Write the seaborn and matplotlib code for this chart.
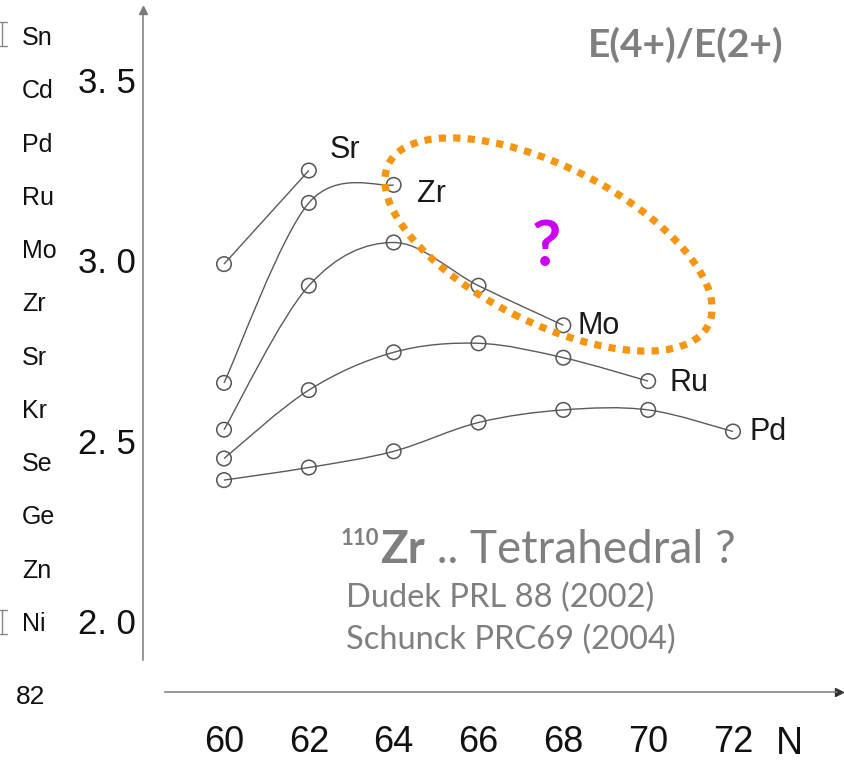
import numpy as np
import pandas as pd
import matplotlib
matplotlib.use("Agg")
import matplotlib.pyplot as plt
from matplotlib import font_manager
from matplotlib.path import Path
from matplotlib.patches import PathPatch, Ellipse
from matplotlib.lines import Line2D
from matplotlib.transforms import Affine2D
import seaborn as sns

# E(4+)/E(2+) energy ratios against neutron number N
n_sr = [60, 62]
r_sr = [2.99, 3.25]
n_zr = [60, 62, 64]
r_zr = [2.66, 3.16, 3.21]
n_mo = [60, 62, 64, 66, 68]
r_mo = [2.53, 2.93, 3.05, 2.93, 2.82]
n_ru = [60, 62, 64, 66, 68, 70]
r_ru = [2.45, 2.64, 2.745, 2.77, 2.73, 2.665]
n_pd = [60, 62, 64, 66, 68, 70, 72]
r_pd = [2.39, 2.425, 2.47, 2.55, 2.585, 2.585, 2.525]

elements = ["Sr", "Zr", "Mo", "Ru", "Pd"]
x_ticks = [60, 62, 64, 66, 68, 70, 72]
y_ticks = [2.0, 2.5, 3.0, 3.5]
y_tick_labels = ["2. 0", "2. 5", "3. 0", "3. 5"]
side_labels = ["Sn", "Cd", "Pd", "Ru", "Mo", "Zr", "Sr", "Kr", "Se", "Ge", "Zn", "Ni"]

series = dict(zip(elements, [(n_sr, r_sr), (n_zr, r_zr), (n_mo, r_mo),
                             (n_ru, r_ru), (n_pd, r_pd)]))
df = pd.concat([pd.DataFrame({"element": k, "N": n, "ratio": r})
                for k, (n, r) in series.items()], ignore_index=True)

sns.set_style("white")
available = {f.name for f in font_manager.fontManager.ttflist}
NARROW = "Liberation Sans Narrow" if "Liberation Sans Narrow" in available else "Liberation Sans"
SANS = "Lato" if "Lato" in available else "DejaVu Sans"
plt.rcParams["font.family"] = [SANS, "DejaVu Sans"]

W, H = 845, 765
fig = plt.figure(figsize=(W / 100, H / 100), dpi=100)
fig.patch.set_facecolor("white")


def fxy(px, py):
    """Figure-fraction coordinates from pixel position (origin top-left)."""
    return px / W, 1 - py / H


# axes box: left spine at x=143 px, bottom axis at y=692 px
ax = fig.add_axes([143 / W, (H - 692) / H, (W - 143) / W, 692 / H])
ax.set_facecolor("none")
px_per_n = (733 - 224) / 12.0
px_per_r = 360.0
ax.set_xlim(60 - (224 - 143) / px_per_n, 60 + (W - 224) / px_per_n)
ax.set_ylim(2.0 - (692 - 620.5) / px_per_r, 3.0 + 260.5 / px_per_r)

AXC = "#7a7a7a"
for side in ("top", "right"):
    ax.spines[side].set_visible(False)
ax.spines["left"].set_color(AXC)
ax.spines["bottom"].set_color(AXC)
ax.spines["left"].set_linewidth(1.1)
ax.spines["bottom"].set_linewidth(1.1)
ax.spines["left"].set_bounds(1.89, 3.69)
ax.spines["bottom"].set_bounds(58.6, 74.45)
# arrow heads on both axes
ax.plot([0], [3.695], marker="^", ms=6, color=AXC, transform=ax.get_yaxis_transform(),
        clip_on=False)
ax.plot([74.5], [0], marker=">", ms=6, color="#333333", transform=ax.get_xaxis_transform(),
        clip_on=False)

ax.set_xticks(x_ticks)
ax.set_xticklabels([str(v) for v in x_ticks])
ax.set_yticks(y_ticks)
ax.set_yticklabels(y_tick_labels)
ax.tick_params(axis="y", direction="in", length=15, width=1.0, color=AXC, pad=5,
               labelsize=25, labelcolor="#111111")
ax.tick_params(axis="x", direction="in", length=18, width=1.0, color=AXC, pad=24,
               labelsize=26, labelcolor="#111111")
for lbl in ax.get_xticklabels() + ax.get_yticklabels():
    lbl.set_fontfamily([NARROW, "DejaVu Sans"])
ax.set_xlabel("")
ax.set_ylabel("")


def smooth_path(xs, ys):
    """Catmull-Rom curve through the points, expressed as cubic Bezier segments."""
    pts = np.column_stack([xs, ys]).astype(float)
    p = np.vstack([pts[0], pts, pts[-1]])
    verts = [pts[0]]
    codes = [Path.MOVETO]
    for i in range(len(pts) - 1):
        p0, p1, p2, p3 = p[i], p[i + 1], p[i + 2], p[i + 3]
        verts += [p1 + (p2 - p0) / 6.0, p2 - (p3 - p1) / 6.0, p2]
        codes += [Path.CURVE4] * 3
    return Path(verts, codes)


for el, (n, r) in series.items():
    ax.add_patch(PathPatch(smooth_path(n, r), fill=False, edgecolor="#5a5a5a",
                           lw=1.0, zorder=2))

sns.scatterplot(data=df, x="N", y="ratio", ax=ax, s=110, marker="o", color="#555555",
                edgecolor="#555555", linewidth=1.1, legend=False, zorder=3)
for coll in ax.collections:
    coll.set_facecolor("none")
ax.set_xlabel("")
ax.set_ylabel("")

# element labels beside the last point of each chain (offsets in pixels)
label_offsets = {"Sr": (36, 20), "Zr": (38, -9), "Mo": (35, -1), "Ru": (41, -2), "Pd": (35, 0)}
for el, (n, r) in series.items():
    dx, dy = label_offsets[el]
    ax.annotate(el, xy=(n[-1], r[-1]), xytext=(dx * 0.72, dy * 0.72),
                textcoords="offset points", ha="center", va="center",
                fontsize=22, color="#1a1a1a", family=[NARROW, "DejaVu Sans"])

# column of element names on the left edge
for i, name in enumerate(side_labels):
    fig.text(*fxy(22, 38 + i * 53.27), name, ha="left", va="center", fontsize=18,
             color="#111111", family=[NARROW, "DejaVu Sans"])
fig.text(*fxy(16, 697), "82", ha="left", va="center", fontsize=19, color="#111111",
         family=[NARROW, "DejaVu Sans"])
for y0, y1 in [(22, 46), (610, 634)]:
    fig.add_artist(Line2D([2 / W, 2 / W], [1 - y0 / H, 1 - y1 / H], color="#888888", lw=1))
    for yy in (y0, y1):
        fig.add_artist(Line2D([0, 7 / W], [1 - yy / H, 1 - yy / H], color="#888888", lw=1))

fig.text(*fxy(789, 744), "N", ha="center", va="center", fontsize=27, color="#111111",
         family=[NARROW, "DejaVu Sans"])

GREY = "#7f7f7f"
fig.text(*fxy(686, 45), "E(4+)/E(2+)", ha="center", va="center", fontsize=28,
         fontweight="bold", color=GREY)

# highlighted region with a question mark
pix = Affine2D().scale(1.0 / W, 1.0 / H) + fig.transFigure
ring = Ellipse((548.5, H - 244.5), width=358, height=156, angle=-26.8, fill=False,
               edgecolor="#F7950F", lw=5.2, linestyle=(0, (1.0, 1.0)), transform=pix,
               zorder=10)
ring.set_capstyle("butt")
fig.add_artist(ring)
fig.text(*fxy(546, 247), "?", ha="center", va="center", fontsize=46, fontweight="bold",
         color="#CC00F5")

# annotation block
zr = fig.text(*fxy(380, 563), "Zr", ha="left", va="baseline", fontsize=33,
              fontweight="bold", color=GREY)
ax.annotate("110", xy=(0, 1), xycoords=zr, xytext=(-1, 1), textcoords="offset points",
            ha="right", va="top", fontsize=16, fontweight="bold", color=GREY,
            annotation_clip=False)
ax.annotate(" .. Tetrahedral ?", xy=(1, 0), xycoords=zr, ha="left", va="bottom",
            fontsize=33, color=GREY, annotation_clip=False)
fig.text(*fxy(346, 598), "Dudek PRL 88 (2002)", ha="left", va="center", fontsize=23.5,
         color=GREY)
fig.text(*fxy(346, 640), "Schunck PRC69 (2004)", ha="left", va="center", fontsize=23.5,
         color=GREY)

fig.savefig("out.png", dpi=100, facecolor="white")
